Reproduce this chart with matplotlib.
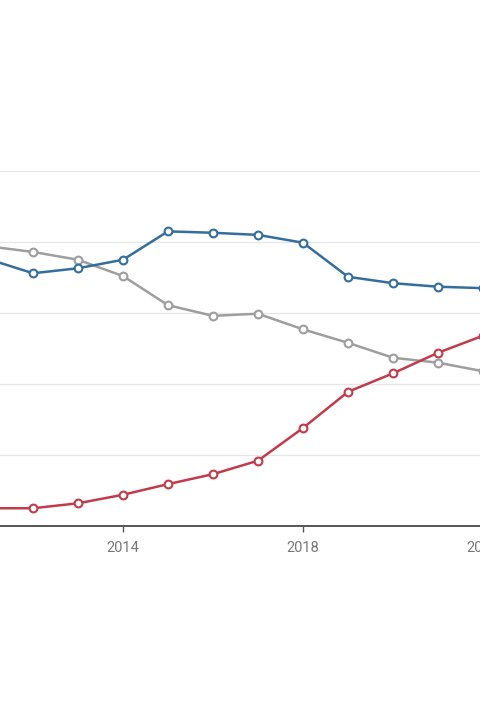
import matplotlib.pyplot as plt

years = list(range(2011, 2023))
blue = [37.6, 35.6, 36.3, 37.5, 41.5, 41.3, 41.0, 39.9, 35.1, 34.2, 33.7, 33.5]
grey = [39.4, 38.6, 37.5, 35.2, 31.1, 29.6, 29.9, 27.7, 25.8, 23.7, 23.0, 21.8]
red = [2.5, 2.5, 3.2, 4.4, 5.9, 7.3, 9.2, 13.8, 18.9, 21.5, 24.4, 26.8]
tick_years = [2014, 2018, 2022]

plt.rcParams['font.family'] = ['Roboto', 'DejaVu Sans']

fig = plt.figure(figsize=(4.8, 7.2), dpi=100)
# the chart is wider than the picture, so the axes run past both edges
ax = fig.add_axes([-100 / 480, 194 / 720, 680 / 480, 355 / 720])

for vals, col in [(grey, "#9e9e9e"), (blue, "#336e9e"), (red, "#c23b4b")]:
    ax.plot(years, vals, color=col, lw=1.8, marker="o", ms=5.6,
            mfc="white", mec=col, mew=1.5, zorder=3)

ax.set_xlim(2014 - 223 / 45, 2014 + 457 / 45)
ax.set_ylim(0, 50)
ax.set_yticks([0, 10, 20, 30, 40, 50])
ax.set_xticks(tick_years)
ax.grid(axis="y", color="#e6e6e6", lw=0.9)
ax.set_axisbelow(True)

for s in ["top", "right", "left"]:
    ax.spines[s].set_visible(False)
ax.spines["bottom"].set_color("#555555")
ax.spines["bottom"].set_linewidth(1.4)

ax.tick_params(axis="y", left=False, labelleft=False)
ax.tick_params(axis="x", colors="#555555", length=4, width=1, labelsize=10.5,
               labelcolor="#777777", pad=7)

plt.savefig("out.png", dpi=100)
